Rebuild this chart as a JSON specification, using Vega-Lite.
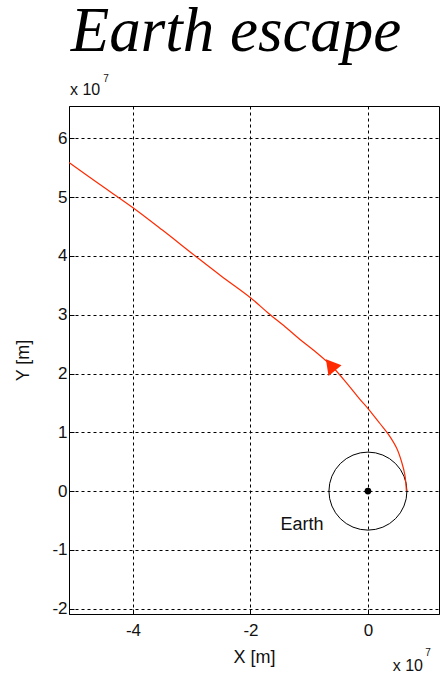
{
  "$schema": "https://vega.github.io/schema/vega-lite/v6.json",
  "width": 370,
  "height": 508,
  "autosize": {"type": "none"},
  "padding": {"left": 69, "top": 106, "right": 1, "bottom": 59},
  "background": "white",
  "title": {
    "text": "Earth escape",
    "font": "Liberation Serif",
    "fontStyle": "italic",
    "fontWeight": "normal",
    "fontSize": 63,
    "color": "black",
    "anchor": "middle",
    "frame": "group",
    "dx": -18,
    "baseline": "alphabetic",
    "offset": -40
  },
  "config": {
    "view": {"stroke": "black", "strokeWidth": 1},
    "axis": {
      "domainColor": "black",
      "domainWidth": 1,
      "grid": true,
      "gridColor": "black",
      "gridDash": [3, 3],
      "gridWidth": 1,
      "gridOpacity": 1,
      "ticks": true,
      "tickColor": "black",
      "tickSize": -5,
      "labelFont": "Liberation Sans",
      "labelFontSize": 17,
      "labelColor": "#111",
      "titleFont": "Liberation Sans",
      "titleFontSize": 18,
      "titleFontWeight": "normal",
      "titleColor": "#111"
    }
  },
  "datasets": {
    "trajectory": [
      {"i": 0, "x": 6550000, "y": 0},
      {"i": 1, "x": 6300000, "y": 2700000},
      {"i": 2, "x": 5730000, "y": 5000000},
      {"i": 3, "x": 4900000, "y": 7300000},
      {"i": 4, "x": 3460000, "y": 9700000},
      {"i": 5, "x": 2040000, "y": 11500000},
      {"i": 6, "x": 50000, "y": 14000000},
      {"i": 7, "x": -1360000, "y": 15600000},
      {"i": 8, "x": -3300000, "y": 18000000},
      {"i": 9, "x": -6100000, "y": 21200000},
      {"i": 10, "x": -9300000, "y": 24000000},
      {"i": 11, "x": -11570000, "y": 25800000},
      {"i": 12, "x": -13800000, "y": 27700000},
      {"i": 13, "x": -17000000, "y": 30300000},
      {"i": 14, "x": -20000000, "y": 32900000},
      {"i": 15, "x": -25000000, "y": 36600000},
      {"i": 16, "x": -29400000, "y": 40000000},
      {"i": 17, "x": -35000000, "y": 44400000},
      {"i": 18, "x": -40000000, "y": 48200000},
      {"i": 19, "x": -46000000, "y": 52400000},
      {"i": 20, "x": -50900000, "y": 55900000}
    ],
    "earth": [{"name": "Earth", "x": 0, "y": 0}],
    "arrow": [{"x": -6380000, "y": 21450000}],
    "corner_top": [{"x": -50900000, "y": 65500000, "base": "x 10", "exp": "7"}],
    "corner_bottom": [{"x": 12100000, "y": -20900000, "base": "x 10", "exp": "7"}]
  },
  "layer": [
    {
      "data": {"name": "earth"},
      "mark": {"type": "point", "shape": "circle", "filled": false, "stroke": "black", "strokeWidth": 1, "size": 6084, "opacity": 1},
      "encoding": {
        "x": {
          "field": "x", "type": "quantitative",
          "scale": {"domain": [-50900000, 12100000], "nice": false, "zero": false},
          "axis": {"values": [-40000000, -20000000, 0], "labelExpr": "'' + (datum.value / 10000000)", "title": "X [m]", "labelPadding": 13, "titlePadding": 10}
        },
        "y": {
          "field": "y", "type": "quantitative",
          "scale": {"domain": [-20900000, 65500000], "nice": false, "zero": false},
          "axis": {"values": [-20000000, -10000000, 0, 10000000, 20000000, 30000000, 40000000, 50000000, 60000000], "labelExpr": "'' + (datum.value / 10000000)", "title": "Y [m]", "labelPadding": 7, "titlePadding": 19}
        }
      }
    },
    {
      "data": {"name": "earth"},
      "mark": {"type": "point", "shape": "circle", "filled": true, "color": "black", "size": 45, "opacity": 1},
      "encoding": {"x": {"field": "x", "type": "quantitative"}, "y": {"field": "y", "type": "quantitative"}}
    },
    {
      "data": {"name": "earth"},
      "mark": {"type": "text", "font": "Liberation Sans", "fontSize": 18, "color": "#111", "align": "center", "baseline": "middle", "dx": -66, "dy": 34},
      "encoding": {"x": {"field": "x", "type": "quantitative"}, "y": {"field": "y", "type": "quantitative"}, "text": {"field": "name"}}
    },
    {
      "data": {"name": "trajectory"},
      "mark": {"type": "line", "color": "#ff2a00", "strokeWidth": 1.2, "clip": true, "interpolate": "catmull-rom"},
      "encoding": {"x": {"field": "x", "type": "quantitative"}, "y": {"field": "y", "type": "quantitative"}, "order": {"field": "i", "type": "quantitative"}}
    },
    {
      "data": {"name": "arrow"},
      "mark": {"type": "point", "shape": "triangle-up", "filled": true, "color": "#ff2a00", "size": 280, "angle": 321, "opacity": 1},
      "encoding": {"x": {"field": "x", "type": "quantitative"}, "y": {"field": "y", "type": "quantitative"}}
    },
    {
      "data": {"name": "corner_top"},
      "mark": {"type": "text", "font": "Liberation Sans", "fontSize": 16, "color": "#111", "align": "left", "baseline": "middle", "dx": 1, "dy": -16, "clip": false},
      "encoding": {"x": {"field": "x", "type": "quantitative"}, "y": {"field": "y", "type": "quantitative"}, "text": {"field": "base"}}
    },
    {
      "data": {"name": "corner_top"},
      "mark": {"type": "text", "font": "Liberation Sans", "fontSize": 10, "color": "#111", "align": "center", "baseline": "middle", "dx": 37, "dy": -27, "clip": false},
      "encoding": {"x": {"field": "x", "type": "quantitative"}, "y": {"field": "y", "type": "quantitative"}, "text": {"field": "exp"}}
    },
    {
      "data": {"name": "corner_bottom"},
      "mark": {"type": "text", "font": "Liberation Sans", "fontSize": 16, "color": "#111", "align": "right", "baseline": "middle", "dx": -16, "dy": 52, "clip": false},
      "encoding": {"x": {"field": "x", "type": "quantitative"}, "y": {"field": "y", "type": "quantitative"}, "text": {"field": "base"}}
    },
    {
      "data": {"name": "corner_bottom"},
      "mark": {"type": "text", "font": "Liberation Sans", "fontSize": 10, "color": "#111", "align": "center", "baseline": "middle", "dx": -11, "dy": 39, "clip": false},
      "encoding": {"x": {"field": "x", "type": "quantitative"}, "y": {"field": "y", "type": "quantitative"}, "text": {"field": "exp"}}
    }
  ]
}
